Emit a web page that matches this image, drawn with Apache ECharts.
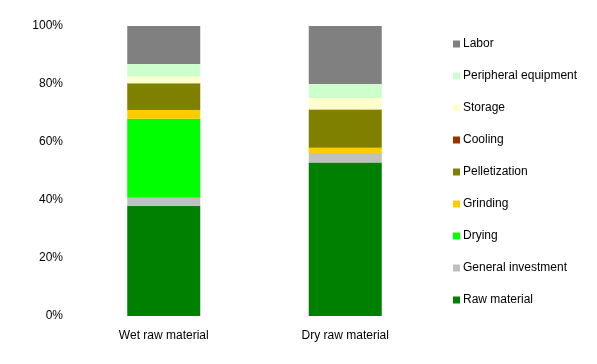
<!DOCTYPE html>
<html><head><meta charset="utf-8">
<script src="https://cdn.jsdelivr.net/npm/echarts@6/dist/echarts.min.js"></script>
<style>html,body{margin:0;padding:0;background:#fff}#c{width:597px;height:364px}</style>
</head><body><div id="c"></div>
<script>
const categories = ['Wet raw material', 'Dry raw material'];
const rawMaterial = [38.0, 52.9];
const generalInvestment = [2.8, 3.3];
const drying = [27.2, 0];
const grinding = [3.0, 1.8];
const pelletization = [9.1, 13.0];
const cooling = [0.2, 0.2];
const storage = [2.3, 4.0];
const peripheral = [4.3, 4.8];
const labor = [13.1, 20.0];
const yTicks = [0, 20, 40, 60, 80, 100];

const seriesDefs = [
  ['Raw material', rawMaterial, '#008000'],
  ['General investment', generalInvestment, '#C0C0C0'],
  ['Drying', drying, '#00FF00'],
  ['Grinding', grinding, '#FFCC00'],
  ['Pelletization', pelletization, '#808000'],
  ['Cooling', cooling, '#993300'],
  ['Storage', storage, '#FFFFCC'],
  ['Peripheral equipment', peripheral, '#CCFFCC'],
  ['Labor', labor, '#808080']
];
const font = 'Liberation Sans, Arial, sans-serif';
const chart = echarts.init(document.getElementById('c'));
chart.setOption({
  animation: false,
  grid: {left: 73, right: 161, top: 26, bottom: 48},
  legend: {
    orient: 'vertical', left: 448, top: 33,
    itemWidth: 7, itemHeight: 7, itemGap: 20,
    icon: 'rect',
    data: seriesDefs.map(s => s[0]).reverse(),
    textStyle: {fontFamily: font, fontSize: 12, color: '#000', padding: [0,0,0,-2]}
  },
  xAxis: {
    type: 'category', data: categories,
    axisLine: {show: false}, axisTick: {show: false},
    axisLabel: {fontFamily: font, fontSize: 12, color: '#000', margin: 14}
  },
  yAxis: {
    type: 'value', min: yTicks[0], max: yTicks[yTicks.length-1], interval: 20,
    splitLine: {show: false}, axisLine: {show: false}, axisTick: {show: false},
    axisLabel: {fontFamily: font, fontSize: 12, color: '#000', margin: 10, formatter: v => v + '%'}
  },
  series: seriesDefs.map(s => ({
    name: s[0], type: 'bar', stack: 'total', data: s[1], barWidth: 73,
    itemStyle: {color: s[2]}
  }))
});
</script></body></html>
